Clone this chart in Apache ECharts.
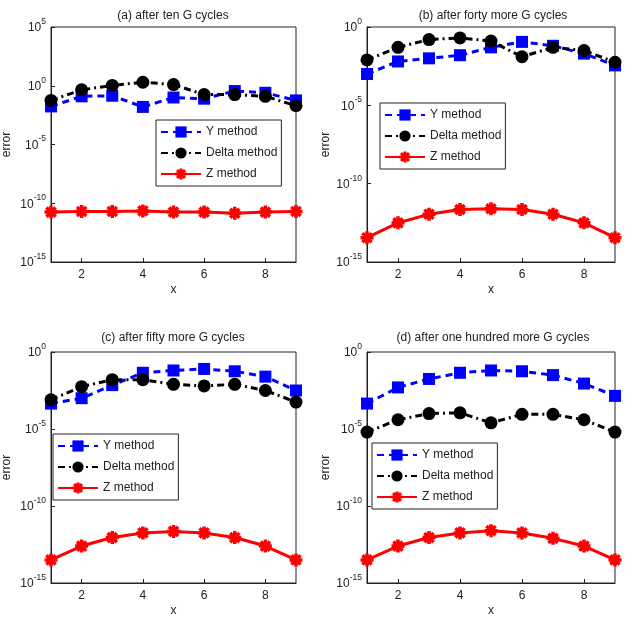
<!DOCTYPE html>
<html>
<head>
<meta charset="utf-8">
<script src="https://cdn.jsdelivr.net/npm/echarts@6/dist/echarts.min.js"></script>
<style>
  html, body { margin: 0; padding: 0; background: #fff; }
  #chart { width: 627px; height: 622px; }
</style>
</head>
<body>
<div id="chart"></div>
<script>
// x positions
const xs = [1, 2, 3, 4, 5, 6, 7, 8, 9]
const xTicks = [2, 4, 6, 8]
const names = ['Y method', 'Delta method', 'Z method']
const titles = [
  '(a) after ten G cycles',
  '(b) after forty more G cycles',
  '(c) after fifty more G cycles',
  '(d) after one hundred more G cycles',
]
// errors, stored as log10(error)
const aY = [-1.76, -0.9, -0.85, -1.8, -1.0, -1.1, -0.45, -0.6, -1.25]
const aDelta = [-1.25, -0.35, 0.03, 0.3, 0.1, -0.75, -0.75, -0.9, -1.7]
const aZ = [-10.75, -10.7, -10.7, -10.65, -10.75, -10.75, -10.85, -10.75, -10.7]
const bY = [-3.0, -2.2, -2.0, -1.8, -1.3, -0.95, -1.2, -1.7, -2.45]
const bDelta = [-2.1, -1.3, -0.8, -0.7, -0.9, -1.9, -1.3, -1.5, -2.25]
const bZ = [-13.45, -12.5, -11.95, -11.65, -11.6, -11.65, -11.95, -12.5, -13.45]
const cY = [-3.35, -3.0, -2.15, -1.35, -1.2, -1.1, -1.25, -1.6, -2.5]
const cDelta = [-3.1, -2.25, -1.8, -1.8, -2.1, -2.2, -2.1, -2.5, -3.25]
const cZ = [-13.5, -12.6, -12.05, -11.75, -11.65, -11.75, -12.05, -12.6, -13.5]
const dY = [-3.35, -2.3, -1.75, -1.35, -1.2, -1.25, -1.5, -2.05, -2.85]
const dDelta = [-5.2, -4.4, -4.0, -3.95, -4.6, -4.05, -4.05, -4.4, -5.2]
const dZ = [-13.5, -12.6, -12.05, -11.75, -11.6, -11.75, -12.1, -12.6, -13.5]
const yTicksA = [1e-15, 1e-10, 1e-5, 1e0, 1e5]
const yTicksB = [1e-15, 1e-10, 1e-5, 1e0]

const panelData = [
  [aY, aDelta, aZ],
  [bY, bDelta, bZ],
  [cY, cDelta, cZ],
  [dY, dDelta, dZ],
]

const grids = [
  { left: 47, top: 27, width: 249, height: 235 },
  { left: 367, top: 27, width: 248, height: 235 },
  { left: 47, top: 352, width: 249, height: 231 },
  { left: 367, top: 352, width: 248, height: 231 },
]
const legendPos = [
  { left: 156, top: 120 },
  { left: 380, top: 103 },
  { left: 53, top: 434 },
  { left: 372, top: 443 },
]
const titlePos = [
  { left: 168, top: 5 },
  { left: 488, top: 5 },
  { left: 168, top: 327 },
  { left: 488, top: 327 },
]

// asterisk marker made of 4 thin bars
const asterisk = (() => {
  let p = ''
  ;[0, 45, 90, 135].forEach((deg) => {
    const a = deg * Math.PI / 180
    const c = Math.cos(a)
    const s = Math.sin(a)
    const pts = [[-1, -0.27], [1, -0.27], [1, 0.27], [-1, 0.27]].map(([x, y]) => [
      (x * c - y * s).toFixed(3), (x * s + y * c).toFixed(3),
    ])
    p += `M${pts[0][0]} ${pts[0][1]}L${pts[1][0]} ${pts[1][1]}L${pts[2][0]} ${pts[2][1]}L${pts[3][0]} ${pts[3][1]}Z`
  })
  return `path://${p}`
})()

const font = 'Liberation Sans, Arial, sans-serif'
const styles = [
  {
    color: '#0000ff', symbol: 'rect', symbolSize: 12,
    lineStyle: { color: '#0000ff', width: 3, type: [7, 5] },
  },
  {
    color: '#000', symbol: 'circle', symbolSize: 13,
    lineStyle: { color: '#000', width: 3, type: [7, 4, 2, 4] },
  },
  {
    color: '#ff0000', symbol: asterisk, symbolSize: 13,
    lineStyle: { color: '#ff0000', width: 3, type: 'solid' },
  },
]

const expLabel = (v) => {
  const e = Math.round(Math.log10(v))
  return `{b|10}{s|${e}}`
}

const chart = echarts.init(document.getElementById('chart'))
const option = {
  animation: false,
  textStyle: { fontFamily: font },
  title: titles.map((t, i) => ({
    text: t,
    left: titlePos[i].left,
    top: titlePos[i].top,
    textAlign: 'center',
    textStyle: { fontSize: 12, fontWeight: 'normal', color: '#222', fontFamily: font },
  })),
  grid: grids.map((g) => ({ ...g, show: true, borderColor: '#222', borderWidth: 1, backgroundColor: '#fff' })),
  legend: legendPos.map((p) => ({
    left: p.left,
    top: p.top,
    orient: 'vertical',
    data: names,
    backgroundColor: '#fff',
    borderColor: '#222',
    borderWidth: 1,
    borderRadius: 0,
    padding: [6, 4, 6, 4],
    itemGap: 9,
    itemWidth: 40,
    itemHeight: 14,
    selectedMode: false,
    textStyle: { fontSize: 12, color: '#222', fontFamily: font },
  })),
  xAxis: grids.map((g, i) => ({
    gridIndex: i,
    type: 'value',
    min: 1,
    max: 9,
    name: 'x',
    nameLocation: 'middle',
    nameGap: 22,
    nameTextStyle: { fontSize: 12, color: '#222' },
    axisLine: { lineStyle: { color: '#222' } },
    axisTick: { inside: true, length: 4, customValues: xTicks, lineStyle: { color: '#222' } },
    axisLabel: { customValues: xTicks, fontSize: 12, color: '#222', margin: 7 },
    splitLine: { show: false },
  })),
  yAxis: grids.map((g, i) => ({
    gridIndex: i,
    type: 'log',
    logBase: 10,
    min: 1e-15,
    max: i === 0 ? 1e5 : 1e0,
    name: 'error',
    nameLocation: 'middle',
    nameGap: i % 2 === 0 ? 38 : 35,
    nameTextStyle: { fontSize: 12, color: '#222' },
    axisLine: { lineStyle: { color: '#222' } },
    axisTick: { inside: true, length: 4, customValues: i === 0 ? yTicksA : yTicksB, lineStyle: { color: '#222' } },
    axisLabel: {
      customValues: i === 0 ? yTicksA : yTicksB,
      formatter: expLabel,
      margin: 5,
      rich: {
        b: { fontSize: 12, color: '#222', verticalAlign: 'bottom', lineHeight: 14 },
        s: { fontSize: 8.5, color: '#222', verticalAlign: 'bottom', padding: [0, 0, 8, 0], lineHeight: 10 },
      },
    },
    splitLine: { show: false },
    minorTick: { show: false },
  })),
  series: [],
}

panelData.forEach((set, p) => {
  set.forEach((vals, k) => {
    option.series.push({
      name: names[k],
      type: 'line',
      xAxisIndex: p,
      yAxisIndex: p,
      data: xs.map((x, j) => [x, Math.pow(10, vals[j])]),
      ...styles[k],
      itemStyle: { color: styles[k].color },
      z: 3 + k,
    })
  })
})

chart.setOption(option)
</script>
</body>
</html>
